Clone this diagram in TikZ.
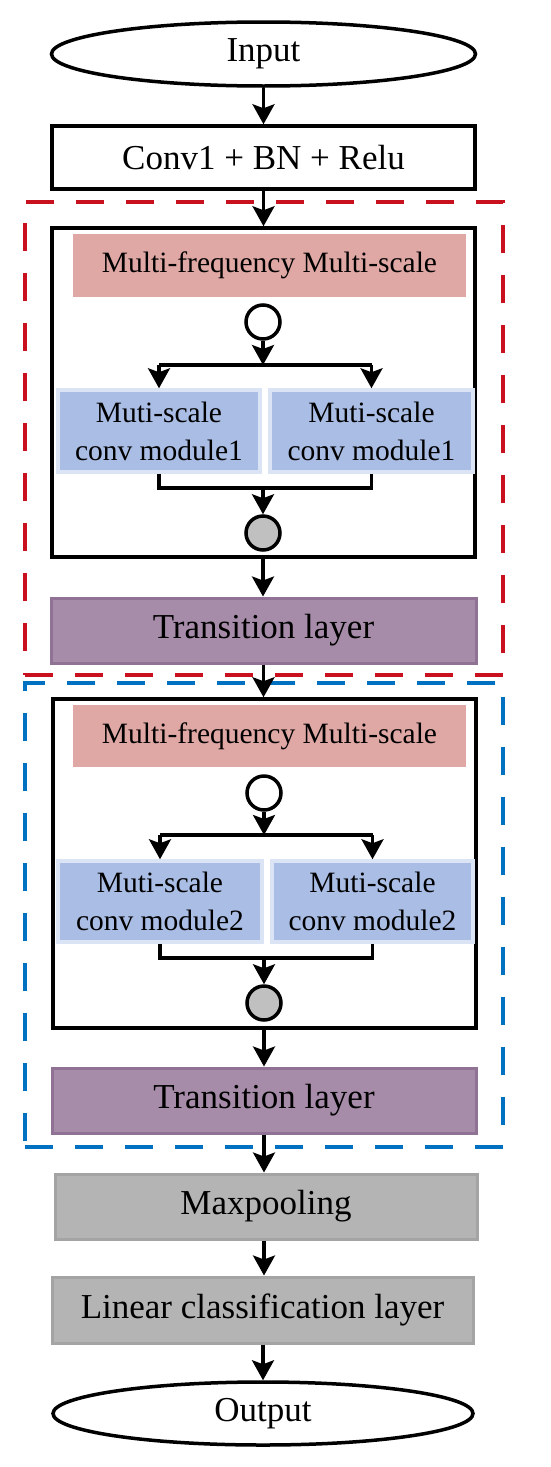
\documentclass[tikz,border=0pt]{standalone}
\usepackage{fontspec}
\setmainfont{Liberation Serif}
\usetikzlibrary{arrows.meta,shapes.geometric}
\definecolor{redd}{RGB}{200,16,30}
\definecolor{blued}{RGB}{0,112,192}
\definecolor{pinkf}{RGB}{223,168,165}
\definecolor{bluef}{RGB}{169,189,229}
\definecolor{bluer}{RGB}{218,228,244}
\definecolor{purf}{RGB}{166,140,169}
\definecolor{purd}{RGB}{143,114,148}
\definecolor{grayf}{RGB}{180,180,180}
\definecolor{grayd}{RGB}{164,164,164}
\definecolor{circf}{RGB}{192,192,192}
\tikzset{
  big/.style={font=\fontsize{35}{40}\selectfont},
  small/.style={font=\fontsize{29.5}{38}\selectfont},
  ell/.style={ellipse,draw=black,line width=3.5pt,fill=white,inner sep=0pt,big},
  blackbox/.style={rectangle,draw=black,line width=3.5pt,fill=white,inner sep=0pt},
  pinkbox/.style={rectangle,fill=pinkf,inner sep=0pt,small},
  modbox/.style={rectangle,draw=bluer,line width=3.5pt,fill=bluef,inner sep=0pt,small,align=center},
  transbox/.style={rectangle,draw=purd,line width=3pt,fill=purf,inner sep=0pt,big},
  graybox/.style={rectangle,draw=grayd,line width=3pt,fill=grayf,inner sep=0pt,big},
  opencirc/.style={circle,draw=black,line width=3.5pt,fill=white,minimum size=34pt,inner sep=0pt},
  graycirc/.style={circle,draw=black,line width=3.5pt,fill=circf,minimum size=34pt,inner sep=0pt},
  frame/.style={rectangle,line width=3.5pt,dash pattern=on 28pt off 22pt,inner sep=0pt},
  arr/.style={line width=3.2pt,-{Stealth[length=20pt,width=22pt,inset=4pt]}},
  ln/.style={line width=3.2pt},
}
\begin{document}
\begin{tikzpicture}[x=1pt,y=-1pt]
\useasboundingbox (0,0) rectangle (550,1467);
% dashed frames
\node[frame,draw=redd,minimum width=478pt,minimum height=473pt] (redframe) at (264,438.5) {};
\node[frame,draw=blued,minimum width=478pt,minimum height=464pt] (blueframe) at (264,915) {};
% top
\node[ell,minimum width=424pt,minimum height=64pt] (in) at (263.5,54) {Input};
\node[blackbox,big,minimum width=423pt,minimum height=63pt] (conv) at (263.5,157.5) {Conv1 + BN + Relu};
% block 1
\node[blackbox,minimum width=423pt,minimum height=329pt] (inner1) at (263.5,392.5) {};
\node[pinkbox,minimum width=393pt,minimum height=63pt] (pink1) at (269.5,265.5) {Multi-frequency Multi-scale};
\node[opencirc] (c1) at (263,322) {};
\coordinate (split1) at (263,365);
\node[modbox,minimum width=202pt,minimum height=82pt] (mL1) at (159,431) {Muti-scale\\conv module1};
\node[modbox,minimum width=203pt,minimum height=82pt] (mR1) at (371.5,431) {Muti-scale\\conv module1};
\coordinate (merge1) at (263,488);
\node[graycirc] (g1) at (263,533) {};
\node[transbox,minimum width=425pt,minimum height=65pt] (t1) at (263.5,630.5) {Transition layer};
% block 2
\node[blackbox,minimum width=423pt,minimum height=329pt] (inner2) at (264.5,863.5) {};
\node[pinkbox,minimum width=393pt,minimum height=62pt] (pink2) at (269.5,736) {Multi-frequency Multi-scale};
\node[opencirc] (c2) at (264,793) {};
\coordinate (split2) at (264,835);
\node[modbox,minimum width=204pt,minimum height=81pt] (mL2) at (160,901.5) {Muti-scale\\conv module2};
\node[modbox,minimum width=201pt,minimum height=81pt] (mR2) at (372.5,901.5) {Muti-scale\\conv module2};
\coordinate (merge2) at (264,958);
\node[graycirc] (g2) at (264,1003) {};
\node[transbox,minimum width=424pt,minimum height=65pt] (t2) at (264,1100.5) {Transition layer};
% bottom
\node[graybox,minimum width=422pt,minimum height=65pt] (mp) at (266,1206.5) {Maxpooling};
\node[graybox,minimum width=421pt,minimum height=66pt] (lin) at (262.5,1310) {Linear classification layer};
\node[ell,minimum width=420pt,minimum height=63pt] (out) at (263,1413.5) {Output};
% connectors
\draw[arr] (in.south) -- (in.south |- conv.north);
\draw[arr] (conv.south) -- (conv.south |- inner1.north);
\draw[arr] (c1.south) -- (split1);
\draw[ln] (mL1.north |- split1) -- (mR1.north |- split1);
\draw[arr] (mL1.north |- split1) -- (mL1.north);
\draw[arr] (mR1.north |- split1) -- (mR1.north);
\draw[ln] (mL1.south) |- (merge1) -| (mR1.south);
\draw[arr] (merge1) -- (g1.north);
\draw[arr] (g1.south |- inner1.south) -- (g1.south |- t1.north);
\draw[arr] (t1.south) -- (t1.south |- inner2.north);
\draw[arr] (c2.south) -- (split2);
\draw[ln] (mL2.north |- split2) -- (mR2.north |- split2);
\draw[arr] (mL2.north |- split2) -- (mL2.north);
\draw[arr] (mR2.north |- split2) -- (mR2.north);
\draw[ln] (mL2.south) |- (merge2) -| (mR2.south);
\draw[arr] (merge2) -- (g2.north);
\draw[arr] (g2.south |- inner2.south) -- (g2.south |- t2.north);
\draw[arr] (t2.south) -- (t2.south |- mp.north);
\draw[arr] (t2.south |- mp.south) -- (t2.south |- lin.north);
\draw[arr] (out.north |- lin.south) -- (out.north);
\end{tikzpicture}
\end{document}
